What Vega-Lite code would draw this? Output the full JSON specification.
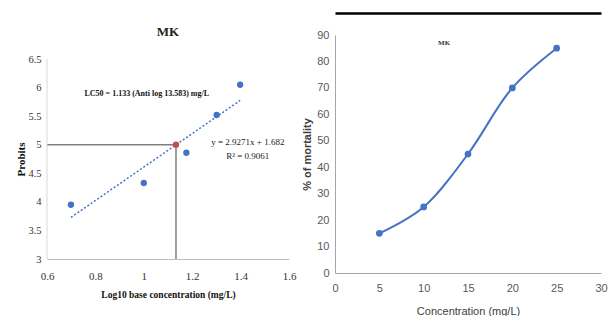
{
  "$schema": "https://vega.github.io/schema/vega-lite/v6.json",
  "background": "white",
  "padding": {"left": 15, "top": 13, "right": 3, "bottom": 0},
  "columns": 2,
  "align": "none",
  "spacing": 5,
  "config": {
    "view": {"stroke": null},
    "axis": {"grid": false, "ticks": false, "labelOverlap": false, "labelFlush": false}
  },
  "datasets": {
    "probits": [
      {"x": 0.699, "y": 3.95, "kind": "observed"},
      {"x": 1.0, "y": 4.33, "kind": "observed"},
      {"x": 1.176, "y": 4.86, "kind": "observed"},
      {"x": 1.301, "y": 5.52, "kind": "observed"},
      {"x": 1.398, "y": 6.05, "kind": "observed"},
      {"x": 1.133, "y": 5.0, "kind": "LC50"}
    ],
    "trend": [
      {"x": 0.699, "y": 3.728},
      {"x": 1.398, "y": 5.774}
    ],
    "refLines": [
      {"x": 0.6, "x2": 1.133, "y": 5.0, "y2": 5.0},
      {"x": 1.133, "x2": 1.133, "y": 3.0, "y2": 5.0}
    ],
    "axisLine": [
      {"x": 0.6, "x2": 0.6, "y": 3.0, "y2": 6.5}
    ],
    "lc50Label": [
      {"x": 0.755, "y": 5.89, "label": "LC50 = 1.133 (Anti log 13.583)  mg/L"}
    ],
    "equation": [
      {"x": 1.43, "y": 5.05, "label": "y = 2.9271x + 1.682"},
      {"x": 1.43, "y": 4.8, "label": "R² = 0.9061"}
    ],
    "mortality": [
      {"x": 5, "y": 15},
      {"x": 10, "y": 25},
      {"x": 15, "y": 45},
      {"x": 20, "y": 70},
      {"x": 25, "y": 85}
    ],
    "rightTitle": [
      {"x": 12.3, "y": 87, "label": "MK"}
    ]
  },
  "concat": [
    {
      "width": 242,
      "height": 224,
      "title": {"text": "MK", "font": "Liberation Serif", "fontSize": 13, "fontWeight": "bold", "color": "#222222", "offset": -4},
      "layer": [
        {
          "data": {"name": "refLines"},
          "mark": {"type": "rule", "color": "#7f7f7f", "strokeWidth": 1.5},
          "encoding": {
            "x": {"field": "x", "type": "quantitative",
              "scale": {"domain": [0.6, 1.6], "nice": false, "zero": false},
              "axis": {"title": "Log10 base concentration (mg/L)", "values": [0.6, 0.8, 1.0, 1.2, 1.4, 1.6], "tickCount": 12, "format": "~g", "labelOverlap": false,
                "domainColor": "#bfbfbf", "labelFont": "Liberation Serif", "labelFontSize": 11, "labelColor": "#333333", "labelPadding": 11,
                "titleFont": "Liberation Serif", "titleFontSize": 9.5, "titleFontWeight": "bold", "titleColor": "#111111", "titlePadding": 8}},
            "x2": {"field": "x2"},
            "y": {"field": "y", "type": "quantitative",
              "scale": {"domain": [3, 6.92], "nice": false, "zero": false},
              "axis": {"title": "Probits", "values": [3, 3.5, 4, 4.5, 5, 5.5, 6, 6.5], "tickCount": 12, "format": "~g", "domain": false, "labelOverlap": false,
                "labelFont": "Liberation Serif", "labelFontSize": 10.5, "labelColor": "#333333", "labelPadding": 6,
                "titleFont": "Liberation Serif", "titleFontSize": 11, "titleFontWeight": "bold", "titleColor": "#111111", "titlePadding": 1, "titleY": 124}},
            "y2": {"field": "y2"}
          }
        },
        {
          "data": {"name": "axisLine"},
          "mark": {"type": "rule", "color": "#d9d9d9", "strokeWidth": 1},
          "encoding": {
            "x": {"field": "x", "type": "quantitative"},
            "x2": {"field": "x2"},
            "y": {"field": "y", "type": "quantitative"},
            "y2": {"field": "y2"}
          }
        },
        {
          "data": {"name": "trend"},
          "mark": {"type": "line", "color": "#4472C4", "strokeWidth": 1.5, "strokeDash": [2, 2]},
          "encoding": {
            "x": {"field": "x", "type": "quantitative"},
            "y": {"field": "y", "type": "quantitative"}
          }
        },
        {
          "data": {"name": "probits"},
          "mark": {"type": "point", "filled": true, "size": 40, "opacity": 1},
          "encoding": {
            "x": {"field": "x", "type": "quantitative"},
            "y": {"field": "y", "type": "quantitative"},
            "color": {"field": "kind", "type": "nominal", "scale": {"domain": ["observed", "LC50"], "range": ["#4472C4", "#C0504D"]}, "legend": null}
          }
        },
        {
          "data": {"name": "lc50Label"},
          "mark": {"type": "text", "align": "left", "baseline": "middle", "font": "Liberation Serif", "fontSize": 8, "fontWeight": "bold", "color": "#111111"},
          "encoding": {
            "x": {"field": "x", "type": "quantitative"},
            "y": {"field": "y", "type": "quantitative"},
            "text": {"field": "label"}
          }
        },
        {
          "data": {"name": "equation"},
          "mark": {"type": "text", "align": "center", "baseline": "middle", "font": "Liberation Serif", "fontSize": 9, "color": "#222222"},
          "encoding": {
            "x": {"field": "x", "type": "quantitative"},
            "y": {"field": "y", "type": "quantitative"},
            "text": {"field": "label"}
          }
        }
      ]
    },
    {
      "width": 266,
      "height": 238,
      "resolve": {"scale": {"x": "independent"}, "axis": {"x": "independent"}},
      "layer": [
        {
          "layer": [
            {
              "data": {"name": "mortality"},
              "mark": {"type": "line", "interpolate": "catmull-rom", "color": "#4472C4", "strokeWidth": 2},
              "encoding": {
                "x": {"field": "x", "type": "quantitative",
                  "scale": {"domain": [0, 30], "nice": false},
                  "axis": {"orient": "bottom", "title": "Concentration (mg/L)", "values": [0, 5, 10, 15, 20, 25, 30], "tickCount": 12, "labelOverlap": false,
                    "domainColor": "#a6a6a6", "labelFont": "Liberation Sans Narrow, Arial Narrow, sans-serif", "labelFontSize": 11, "labelColor": "#595959", "labelPadding": 9,
                    "titleFont": "Liberation Sans Narrow, Arial Narrow, sans-serif", "titleFontSize": 11, "titleFontWeight": "normal", "titleColor": "#404040", "titlePadding": 12}},
                "y": {"field": "y", "type": "quantitative",
                  "scale": {"domain": [0, 90], "nice": false},
                  "axis": {"title": "% of mortality", "values": [0, 10, 20, 30, 40, 50, 60, 70, 80, 90], "tickCount": 12, "labelOverlap": false,
                    "domainColor": "#a6a6a6", "labelFont": "Liberation Sans Narrow, Arial Narrow, sans-serif", "labelFontSize": 11, "labelColor": "#595959", "labelPadding": 6,
                    "titleFont": "Liberation Sans", "titleFontSize": 11, "titleFontWeight": "bold", "titleColor": "#404040", "titlePadding": 4}}
              }
            },
            {
              "data": {"name": "mortality"},
              "mark": {"type": "point", "filled": true, "size": 45, "color": "#4472C4", "opacity": 1},
              "encoding": {
                "x": {"field": "x", "type": "quantitative"},
                "y": {"field": "y", "type": "quantitative"}
              }
            }
          ]
        },
        {
          "data": {"name": "rightTitle"},
          "mark": {"type": "text", "align": "center", "baseline": "middle", "font": "Liberation Serif", "fontSize": 7, "fontWeight": "bold", "color": "#333333"},
          "encoding": {
            "x": {"field": "x", "type": "quantitative",
              "scale": {"domain": [0, 30], "nice": false},
              "axis": {"orient": "top", "offset": 22, "labels": false, "ticks": false, "title": null, "domainColor": "#000000", "domainWidth": 2.5}},
            "y": {"field": "y", "type": "quantitative"},
            "text": {"field": "label"}
          }
        }
      ]
    }
  ]
}
